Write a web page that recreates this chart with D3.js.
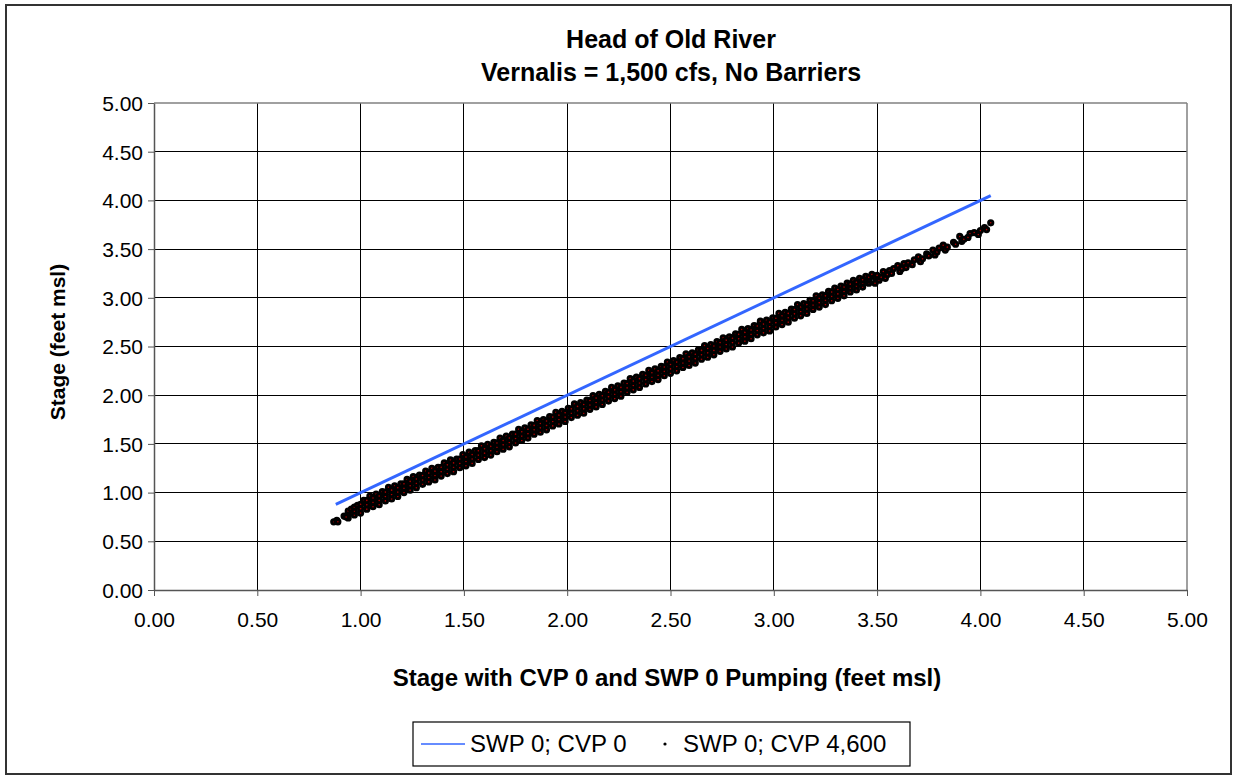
<!DOCTYPE html>
<html>
<head>
<meta charset="utf-8">
<script src="https://cdn.jsdelivr.net/npm/d3@7"></script>
<style>
  html, body { margin: 0; padding: 0; background: #fff; }
  svg { display: block; font-family: "Liberation Sans", Arial, sans-serif; }
</style>
</head>
<body>
<svg id="chart" width="1233" height="776"></svg>
<script>
// ---------------- DATA ----------------
const titleLines = ["Head of Old River", "Vernalis = 1,500 cfs, No Barriers"];
const xAxisTitle = "Stage with CVP 0 and SWP 0 Pumping (feet msl)";
const yAxisTitle = "Stage (feet msl)";
const tickValues = [0, 0.5, 1, 1.5, 2, 2.5, 3, 3.5, 4, 4.5, 5];
const seriesNames = ["SWP 0; CVP 0", "SWP 0; CVP 4,600"];

// Series 1: SWP 0; CVP 0 (line)
const lineX = [0.88, 4.05];
const lineY = [0.88, 4.05];

// Series 2: SWP 0; CVP 4,600 (scatter): x values with several stage readings each
const bandX = [0.94,0.97,1.00,1.03,1.06,1.09,1.12,1.15,1.18,1.21,1.24,1.27,1.30,1.33,1.36,1.39,1.42,1.45,1.48,1.51,
  1.54,1.57,1.60,1.63,1.66,1.69,1.72,1.75,1.78,1.81,1.84,1.87,1.90,1.93,1.96,1.99,2.02,2.05,2.08,2.11,
  2.14,2.17,2.20,2.23,2.26,2.29,2.32,2.35,2.38,2.41,2.44,2.47,2.50,2.53,2.56,2.59,2.62,2.65,2.68,2.71,
  2.74,2.77,2.80,2.83,2.86,2.89,2.92,2.95,2.98,3.01,3.04,3.07,3.10,3.13,3.16,3.19,3.22,3.25,3.28,3.31,
  3.34,3.37,3.40,3.43,3.46];
const bandLow = [0.74,0.77,0.79,0.83,0.855,0.875,0.915,0.935,0.96,1.00,1.025,1.05,1.085,1.11,1.13,1.17,1.195,1.215,1.255,1.275,
  1.30,1.34,1.36,1.385,1.42,1.445,1.47,1.51,1.535,1.56,1.60,1.62,1.645,1.685,1.705,1.73,1.77,1.795,1.815,1.855,
  1.88,1.905,1.94,1.965,1.99,2.03,2.055,2.08,2.115,2.14,2.16,2.20,2.225,2.25,2.285,2.305,2.33,2.37,2.39,2.415,
  2.45,2.475,2.495,2.535,2.555,2.58,2.62,2.64,2.66,2.70,2.725,2.75,2.79,2.815,2.84,2.88,2.905,2.93,2.97,2.995,
  3.02,3.06,3.08,3.11,3.15];
const bandMid = [0.78,0.81,0.835,0.875,0.90,0.92,0.96,0.98,1.005,1.045,1.07,1.095,1.13,1.155,1.175,1.215,1.24,1.26,1.30,1.32,
  1.345,1.385,1.405,1.43,1.465,1.49,1.515,1.555,1.58,1.605,1.645,1.665,1.69,1.73,1.75,1.775,1.815,1.84,1.86,1.90,
  1.925,1.95,1.985,2.01,2.035,2.075,2.10,2.125,2.16,2.185,2.205,2.245,2.27,2.295,2.33,2.35,2.375,2.415,2.435,2.46,
  2.495,2.52,2.54,2.58,2.60,2.625,2.665,2.685,2.705,2.745,2.77,2.795,2.835,2.86,2.885,2.925,2.95,2.975,3.015,3.04,
  3.065,3.10,3.12,3.15,3.18];
const bandHigh = [0.81,0.85,0.88,0.92,0.945,0.965,1.005,1.025,1.05,1.09,1.115,1.14,1.175,1.20,1.22,1.26,1.285,1.305,1.345,1.365,
  1.39,1.43,1.45,1.475,1.51,1.535,1.56,1.60,1.625,1.65,1.69,1.71,1.735,1.775,1.795,1.82,1.86,1.885,1.905,1.945,
  1.97,1.995,2.03,2.055,2.08,2.12,2.145,2.17,2.205,2.23,2.25,2.29,2.315,2.34,2.375,2.395,2.42,2.46,2.48,2.505,
  2.54,2.565,2.585,2.625,2.645,2.67,2.71,2.73,2.75,2.79,2.815,2.84,2.88,2.905,2.93,2.97,2.995,3.02,3.06,3.085,
  3.11,3.14,3.16,3.185,3.21];
const bandTop = [0.83,0.87,0.92,0.965,0.985,1.01,1.055,1.07,1.09,1.135,1.165,1.18,1.22,1.25,1.26,1.305,1.335,1.345,1.39,1.415,
  1.43,1.48,1.495,1.515,1.56,1.58,1.6,1.65,1.665,1.695,1.74,1.75,1.78,1.825,1.835,1.865,1.91,1.925,1.95,1.995,
  2.01,2.04,2.08,2.095,2.125,2.17,2.185,2.215,2.255,2.27,2.295,2.34,2.355,2.385,2.425,2.435,2.465,2.51,2.52,2.55,
  2.59,2.6,2.63,2.675,2.685,2.715,2.76,2.77,2.795,2.84,2.85,2.885,2.93,2.94,2.975,3.02,3.03,3.065,3.1,3.12,
  3.15,3.18,3.2,3.22,3.24];
// isolated readings at the two ends of the record [x, y]
const endPts = [
  [0.87,0.70],[0.885,0.715],[0.89,0.70],[0.92,0.76],[0.93,0.75],
  [3.49,3.15],[3.49,3.21],[3.50,3.23],[3.51,3.18],[3.52,3.21],[3.53,3.27],[3.54,3.20],[3.55,3.24],[3.56,3.28],
  [3.57,3.25],[3.58,3.30],[3.60,3.33],[3.61,3.27],[3.62,3.30],[3.63,3.35],[3.64,3.31],[3.65,3.36],[3.67,3.34],
  [3.68,3.39],[3.70,3.42],[3.71,3.37],[3.72,3.40],[3.74,3.45],[3.75,3.43],[3.77,3.49],[3.78,3.44],[3.79,3.47],
  [3.80,3.51],[3.82,3.54],[3.83,3.49],[3.84,3.52],[3.87,3.57],[3.88,3.55],[3.90,3.63],[3.91,3.58],[3.92,3.60],
  [3.94,3.62],[3.95,3.66],[3.97,3.67],[3.99,3.65],[4.00,3.69],[4.02,3.72],[4.03,3.70],[4.05,3.77]
];

// ---------------- CHART ----------------
const svg = d3.select("#chart");
const plot = { left: 154, right: 1187, top: 103, bottom: 590 };
const FONT = "'Liberation Sans', Arial, sans-serif";

svg.append("rect").attr("x", 6).attr("y", 5).attr("width", 1225).attr("height", 769)
  .attr("fill", "#fff").attr("stroke", "#333").attr("stroke-width", 2);

const x = d3.scaleLinear().domain([0, 5]).range([plot.left, plot.right]);
const y = d3.scaleLinear().domain([0, 5]).range([plot.bottom, plot.top]);

const g = svg.append("g");
g.selectAll(".vg").data(tickValues.slice(1, -1)).join("line")
  .attr("x1", d => x(d)).attr("x2", d => x(d))
  .attr("y1", plot.top).attr("y2", plot.bottom)
  .attr("stroke", "#000").attr("stroke-width", 1).attr("shape-rendering", "crispEdges");
g.selectAll(".hg").data(tickValues.slice(1, -1)).join("line")
  .attr("x1", plot.left).attr("x2", plot.right)
  .attr("y1", d => y(d)).attr("y2", d => y(d))
  .attr("stroke", "#000").attr("stroke-width", 1).attr("shape-rendering", "crispEdges");
g.append("line").attr("x1", plot.left).attr("x2", plot.right).attr("y1", y(5)).attr("y2", y(5))
  .attr("stroke", "#808080").attr("stroke-width", 1.5);
g.append("line").attr("x1", x(5)).attr("x2", x(5)).attr("y1", plot.top).attr("y2", plot.bottom)
  .attr("stroke", "#808080").attr("stroke-width", 1.5);

const fmt = d3.format(".2f");
const xAxis = d3.axisBottom(x).tickValues(tickValues).tickFormat(fmt).tickSizeInner(6).tickSizeOuter(0).tickPadding(16);
const yAxis = d3.axisLeft(y).tickValues(tickValues).tickFormat(fmt).tickSizeInner(6).tickSizeOuter(0).tickPadding(5);
const xg = svg.append("g").attr("transform", `translate(0,${plot.bottom})`).call(xAxis);
const yg = svg.append("g").attr("transform", `translate(${plot.left},0)`).call(yAxis);
[xg, yg].forEach(a => {
  a.select(".domain").attr("stroke", "#555").attr("stroke-width", 1.5);
  a.selectAll(".tick line").attr("stroke", "#555");
  a.selectAll(".tick text").attr("font-size", 21).attr("fill", "#000").attr("font-family", FONT);
});
yg.selectAll(".tick text").attr("dy", "0.35em");

// scatter series
const scatterPts = [];
bandX.forEach((v, i) => {
  scatterPts.push([v, bandLow[i]], [v, bandMid[i]], [v, bandHigh[i]], [v + 0.015, bandTop[i]]);
});
endPts.forEach(p => scatterPts.push(p));
const pg = svg.append("g");
pg.selectAll("circle").data(scatterPts).join("circle")
  .attr("cx", d => x(d[0])).attr("cy", d => y(d[1])).attr("r", 2.2)
  .attr("fill", "#b00000").attr("stroke", "#000").attr("stroke-width", 2.8);

// line series
const lineData = lineX.map((v, i) => [v, lineY[i]]);
svg.append("path").datum(lineData)
  .attr("d", d3.line().x(d => x(d[0])).y(d => y(d[1])))
  .attr("fill", "none").attr("stroke", "#3366ff").attr("stroke-width", 3);

// titles
svg.append("text").attr("x", 671).attr("y", 48).attr("text-anchor", "middle")
  .attr("font-size", 25).attr("font-weight", "bold").text(titleLines[0]);
svg.append("text").attr("x", 671).attr("y", 81).attr("text-anchor", "middle")
  .attr("font-size", 25).attr("font-weight", "bold").text(titleLines[1]);
svg.append("text").attr("x", 667).attr("y", 686).attr("text-anchor", "middle")
  .attr("font-size", 24).attr("font-weight", "bold").text(xAxisTitle);
svg.append("text").attr("transform", "translate(65,342) rotate(-90)").attr("text-anchor", "middle")
  .attr("font-size", 21).attr("font-weight", "bold").text(yAxisTitle);

// legend
const lg = svg.append("g");
lg.append("rect").attr("x", 413).attr("y", 722).attr("width", 497).attr("height", 44)
  .attr("fill", "#fff").attr("stroke", "#000").attr("stroke-width", 1.2);
lg.append("line").attr("x1", 421).attr("x2", 465).attr("y1", 744).attr("y2", 744)
  .attr("stroke", "#3366ff").attr("stroke-width", 1.5);
lg.append("text").attr("x", 470).attr("y", 752).attr("font-size", 24).text(seriesNames[0]);
lg.append("circle").attr("cx", 665).attr("cy", 744).attr("r", 1.6).attr("fill", "#000");
lg.append("text").attr("x", 683).attr("y", 752).attr("font-size", 24).text(seriesNames[1]);
</script>
</body>
</html>
